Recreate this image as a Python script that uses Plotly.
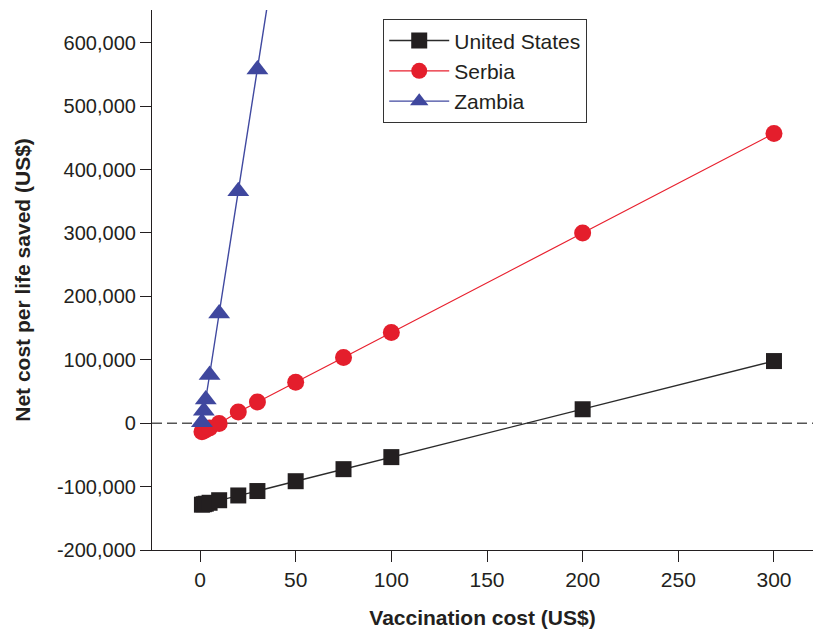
import plotly.graph_objects as go

# Vaccination cost (US$) per course
cost = [1, 2, 3, 5, 10, 20, 30, 50, 75, 100, 200, 300]
cost_zambia = [1, 2, 3, 5, 10, 20, 30, 50]

# Net cost per life saved (US$)
united_states = [-128500, -127800, -127000, -125500, -121500, -114000,
                 -107000, -91500, -72500, -53500, 22000, 98000]
serbia = [-13500, -12000, -10500, -7500, -500, 17500,
          33500, 64500, 103500, 143000, 300000, 457000]
zambia = [1500, 19500, 37500, 76000, 173000, 366000, 558000, 945000]

x_ticks = [0, 50, 100, 150, 200, 250, 300]
y_ticks = [-200000, -100000, 0, 100000, 200000, 300000, 400000, 500000, 600000]
y_tick_labels = ["-200,000", "-100,000", "0", "100,000", "200,000",
                 "300,000", "400,000", "500,000", "600,000"]

FONT = "Liberation Sans, Arial, Helvetica, sans-serif"
INK = "#231f20"

fig = go.Figure()

fig.add_trace(go.Scatter(
    x=cost, y=united_states, name="United States", mode="lines+markers",
    line=dict(color="#2b2b2b", width=1.4),
    marker=dict(symbol="square", size=16, color=INK),
))
fig.add_trace(go.Scatter(
    x=cost, y=serbia, name="Serbia", mode="lines+markers",
    line=dict(color="#e8202e", width=1.2),
    marker=dict(symbol="circle", size=17, color="#e41e2c"),
))
fig.add_trace(go.Scatter(
    x=cost_zambia, y=zambia, name="Zambia", mode="lines+markers",
    line=dict(color="#4049a0", width=1.4),
    marker=dict(symbol="triangle-up", size=19, color="#3f479e"),
))

# break-even reference line
fig.add_shape(type="line", xref="paper", x0=0, x1=1, yref="y", y0=0, y1=0,
              line=dict(color="#555555", width=1.5, dash="10px,5px"), layer="below")

fig.update_layout(
    width=813, height=630,
    margin=dict(l=152, r=0, t=10, b=80),
    paper_bgcolor="white", plot_bgcolor="white",
    font=dict(family=FONT, size=21, color=INK),
    showlegend=True,
    legend=dict(
        x=0.3495, y=0.983, xanchor="left", yanchor="top",
        bordercolor="#333333", borderwidth=1.2, bgcolor="white",
        font=dict(family=FONT, size=21, color=INK),
        itemwidth=60, tracegroupgap=0,
    ),
)

fig.update_xaxes(
    range=[-25.1, 320.4], tickvals=x_ticks,
    showline=True, linecolor=INK, linewidth=1.2,
    ticks="outside", ticklen=11, tickcolor=INK, tickwidth=1.2,
    showgrid=False, zeroline=False,
    tickfont=dict(size=21),
    title=dict(text="<b>Vaccination cost (US$)</b>", font=dict(size=21), standoff=20),
)
fig.update_yaxes(
    range=[-200000, 651700], tickvals=y_ticks, ticktext=y_tick_labels,
    showline=True, linecolor=INK, linewidth=1.2,
    ticks="outside", ticklen=11, tickcolor=INK, tickwidth=1.2,
    showgrid=False, zeroline=False,
    tickfont=dict(size=20),
    title=dict(text="<b>Net cost per life saved (US$)</b>", font=dict(size=21), standoff=20),
)

fig.write_html("out.html")
